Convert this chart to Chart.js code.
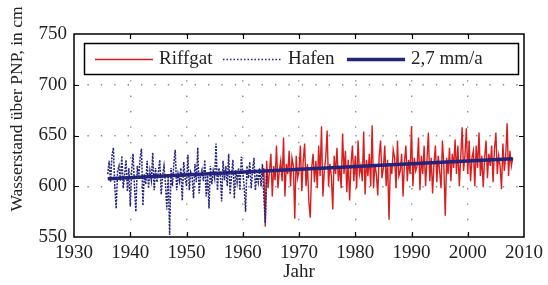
<!DOCTYPE html>
<html>
<head>
<meta charset="utf-8">
<script src="https://cdn.jsdelivr.net/npm/chart.js@4"></script>
<style>
  html, body { margin: 0; padding: 0; background: #fff; }
  #wrap { width: 548px; height: 285px; }
</style>
</head>
<body>
<div id="wrap"><canvas id="myChart" width="548" height="285"></canvas></div>
<script>
// quarterly readings, Hafen gauge from 1936, Riffgat from mid 1963
const hafenStart = 1936;
const riffgatStart = 1963.5;
const stepYears = 0.25;

const hafenValues = [
  612, 625, 604, 630,  638, 600, 578, 615,  620, 605, 630, 598,  612, 626, 595, 618,
  580, 615, 632, 600,  575, 620, 608, 628,  637, 581, 612, 602,  625, 598, 615, 606,
  633, 596, 618, 604,  614, 626, 592, 610,  620, 604, 577, 612,  552, 618, 600, 622,
  636, 596, 612, 605,  618, 586, 624, 608,  600, 631, 596, 614,  610, 588, 622, 604,
  638, 593, 610, 616,  605, 626, 590, 612,  578, 620, 602, 615,  608, 642, 596, 618,
  612, 585, 625, 606,  620, 600, 632, 592,  610, 626, 588, 616,  604, 618, 596, 629,
  614, 600, 575, 620,  608, 624, 598, 615,  628, 596, 612, 604,  618, 600, 622, 590,
  564, 612
];

const riffgatValues = [
  610, 618,
  560, 625, 598, 615,  632, 590, 620, 606,  640, 598, 615, 625,  605, 648, 590, 622,
  612, 635, 600, 628,  620, 568, 630, 608,  615, 640, 595, 625,  642, 600, 622, 585,
  569, 618, 632, 604,  625, 598, 640, 610,  659, 590, 615, 628,  655, 600, 622, 610,
  577, 630, 612, 638,  605, 620, 598, 652,  612, 635, 594, 626,  586, 622, 640, 605,
  630, 598, 645, 612,  620, 605, 654, 592,  626, 610, 632, 600,  660, 598, 622, 612,
  591, 630, 645, 608,  618, 640, 600, 626,  567, 622, 612, 636,  628, 598, 645, 610,
  615, 632, 590, 624,  640, 605, 626, 612,  659, 600, 628, 615,  620, 648, 596, 630,
  612, 640, 600, 626,  653, 605, 628, 593,  622, 640, 604, 630,  615, 598, 645, 620,
  571, 628, 612, 638,  605, 632, 618, 646,  612, 640, 600, 628,  658, 615, 630, 657,
  612, 645, 605, 628,  635, 600, 640, 618,  653, 610, 630, 599,  628, 645, 608, 632,
  620, 640, 604, 636,  653, 612, 630, 620,  597, 642, 615, 630,  662, 610, 635, 620,
  628
];

const trendYears = [1936, 2008];
const trendValues = [607.5, 627];

const xTicks = [1930, 1940, 1950, 1960, 1970, 1980, 1990, 2000, 2010];
const yTicks = [550, 600, 650, 700, 750];

const legendLabels = ['Riffgat', 'Hafen', '2,7 mm/a'];
const yTitle = 'Wasserstand über PNP, in cm';

const RED = '#d81e1e';
const NAVY = '#23237e';
const FONT = '"Liberation Serif", "DejaVu Serif", serif';

function toPoints(start, values) {
  return values.map((v, i) => ({ x: start + i * stepYears, y: v }));
}

// frame, inward tick marks, y title and the boxed legend inside the plot
const framePlugin = {
  id: 'frame',
  afterDraw(chart) {
    const ctx = chart.ctx;
    const a = chart.chartArea;
    const xs = chart.scales.x, ys = chart.scales.y;
    ctx.save();
    ctx.strokeStyle = '#000';
    ctx.lineWidth = 1.5;
    ctx.strokeRect(a.left, a.top, a.right - a.left, a.bottom - a.top);

    ctx.lineWidth = 1.2;
    ctx.beginPath();
    xTicks.slice(1, -1).forEach(t => {
      const px = Math.round(xs.getPixelForValue(t)) + 0.5;
      ctx.moveTo(px, a.bottom); ctx.lineTo(px, a.bottom - 5);
      ctx.moveTo(px, a.top); ctx.lineTo(px, a.top + 5);
    });
    yTicks.slice(1, -1).forEach(t => {
      const py = Math.round(ys.getPixelForValue(t)) + 0.5;
      ctx.moveTo(a.left, py); ctx.lineTo(a.left + 5, py);
      ctx.moveTo(a.right, py); ctx.lineTo(a.right - 5, py);
    });
    ctx.stroke();

    // rotated y title, sits a bit above the plot centre like the original
    ctx.save();
    ctx.translate(17, 109);
    ctx.rotate(-Math.PI / 2);
    ctx.fillStyle = '#222';
    ctx.font = '17.5px ' + FONT;
    ctx.textAlign = 'center';
    ctx.textBaseline = 'middle';
    ctx.fillText(yTitle, 0, 0);
    ctx.restore();

    // legend
    const lx = 84.5, ly = 43.5, lw = 434, lh = 31, cy = 59.5;
    ctx.fillStyle = '#fff';
    ctx.fillRect(lx, ly, lw, lh);
    ctx.lineWidth = 1.5;
    ctx.strokeStyle = '#000';
    ctx.strokeRect(lx, ly, lw, lh);

    ctx.lineWidth = 1.5;
    ctx.strokeStyle = RED;
    ctx.beginPath(); ctx.moveTo(95, cy); ctx.lineTo(153, cy); ctx.stroke();

    ctx.strokeStyle = NAVY;
    ctx.lineWidth = 1.3;
    ctx.setLineDash([1.5, 2]);
    ctx.beginPath(); ctx.moveTo(223, cy); ctx.lineTo(282, cy); ctx.stroke();
    ctx.setLineDash([]);

    ctx.lineWidth = 3.5;
    ctx.beginPath(); ctx.moveTo(347, cy); ctx.lineTo(405, cy); ctx.stroke();

    ctx.fillStyle = '#222';
    ctx.font = '19px ' + FONT;
    ctx.textBaseline = 'middle';
    ctx.textAlign = 'left';
    ctx.fillText(legendLabels[0], 159, cy);
    ctx.fillText(legendLabels[1], 288, cy);
    ctx.fillText(legendLabels[2], 411, cy);
    ctx.restore();
  }
};

const ctx = document.getElementById('myChart').getContext('2d');
const myChart = new Chart(ctx, {
  type: 'line',
  data: {
    datasets: [
      {
        label: legendLabels[2],
        data: trendYears.map((x, i) => ({ x: x, y: trendValues[i] })),
        borderColor: NAVY,
        borderWidth: 3.5,
        order: 0
      },
      {
        label: legendLabels[1],
        data: toPoints(hafenStart, hafenValues),
        borderColor: NAVY,
        borderWidth: 1.5,
        borderDash: [2, 1.2],
        order: 1
      },
      {
        label: legendLabels[0],
        data: toPoints(riffgatStart, riffgatValues),
        borderColor: RED,
        borderWidth: 1.4,
        order: 2
      }
    ]
  },
  options: {
    responsive: false,
    animation: false,
    events: [],
    layout: { padding: { top: 34, right: 22, left: 0, bottom: 0 } },
    elements: { point: { radius: 0 }, line: { tension: 0 } },
    plugins: { legend: { display: false }, tooltip: { enabled: false } },
    scales: {
      x: {
        type: 'linear',
        min: 1930, max: 2010,
        afterBuildTicks: s => { s.ticks = xTicks.map(v => ({ value: v })); },
        afterFit: s => { s.height = 48; },
        ticks: {
          color: '#222',
          font: { family: FONT, size: 19 },
          padding: 5,
          maxRotation: 0,
          autoSkip: false,
          callback: v => String(v)
        },
        grid: {
          drawTicks: false,
          color: c => (c.tick && (c.tick.value === 1930 || c.tick.value === 2010)) ? 'rgba(0,0,0,0)' : '#8a8a8a',
          lineWidth: 1.4
        },
        border: { display: false, dash: [1.4, 14] },
        title: {
          display: true,
          text: 'Jahr',
          color: '#222',
          font: { family: FONT, size: 19 },
          padding: { top: 0, bottom: 2 }
        }
      },
      y: {
        min: 550, max: 750,
        afterBuildTicks: s => { s.ticks = yTicks.map(v => ({ value: v })); },
        afterFit: s => { s.width = 74; },
        ticks: {
          color: '#222',
          font: { family: FONT, size: 19 },
          padding: 7,
          autoSkip: false
        },
        grid: {
          drawTicks: false,
          color: c => (c.tick && (c.tick.value === 550 || c.tick.value === 750)) ? 'rgba(0,0,0,0)' : '#8a8a8a',
          lineWidth: 1.4
        },
        border: { display: false, dash: [1.4, 12] },
        title: { display: false }
      }
    }
  },
  plugins: [framePlugin]
});
</script>
</body>
</html>
